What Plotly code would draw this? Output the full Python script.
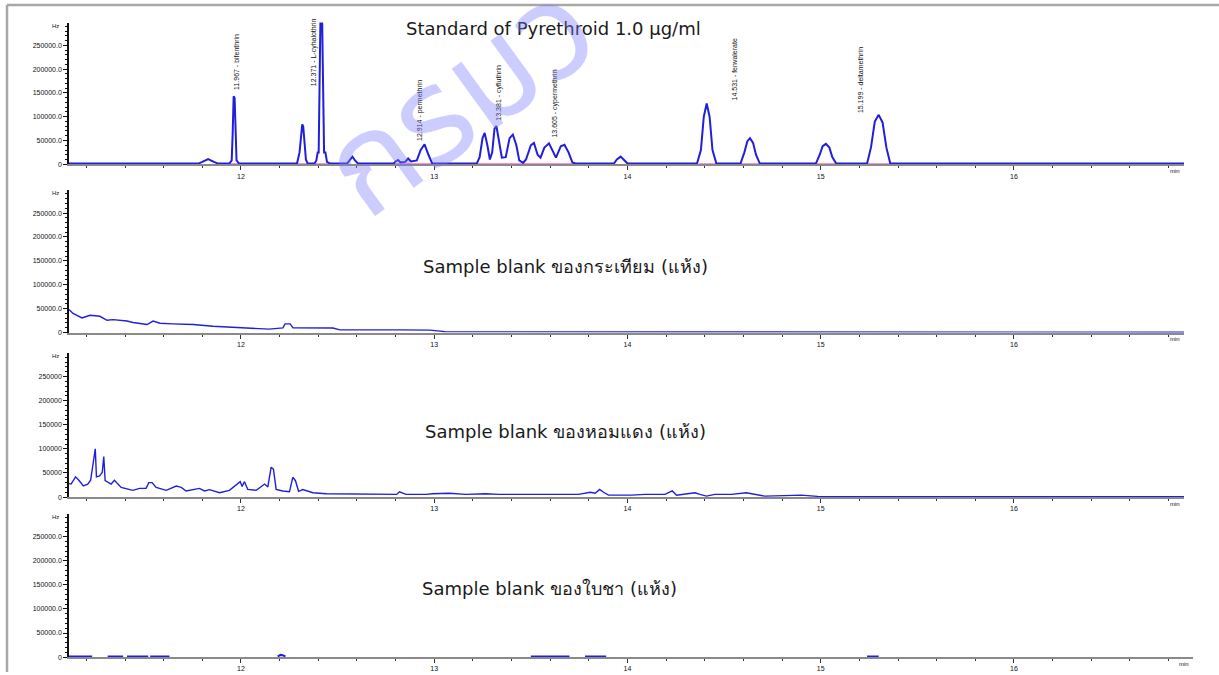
import plotly.graph_objects as go

# ---------------- data ----------------
# Panel 1: Standard of Pyrethroid 1.0 ug/ml  (time min, intensity Hz)
std_t = [11.11, 11.78, 11.80, 11.83, 11.86, 11.88, 11.94, 11.952, 11.957, 11.962, 11.967, 11.972, 11.977, 11.99,
         12.29, 12.303, 12.31, 12.317, 12.322, 12.328, 12.336, 12.345, 12.38, 12.39, 12.397, 12.402, 12.406, 12.412,
         12.419, 12.424, 12.43, 12.437, 12.445, 12.46, 12.55, 12.565, 12.577, 12.59, 12.605, 12.79, 12.80, 12.813,
         12.825, 12.85, 12.865, 12.88, 12.91, 12.93, 12.95, 12.97, 12.99, 13.22, 13.235, 13.25, 13.261, 13.275,
         13.288, 13.30, 13.312, 13.322, 13.335, 13.35, 13.37, 13.39, 13.407, 13.425, 13.44, 13.46, 13.475, 13.50,
         13.516, 13.535, 13.55, 13.57, 13.594, 13.615, 13.63, 13.655, 13.674, 13.695, 13.715, 13.73, 13.93, 13.945,
         13.965, 13.985, 14.0, 14.36, 14.38, 14.395, 14.41, 14.425, 14.44, 14.46, 14.585, 14.605, 14.62, 14.634,
         14.65, 14.665, 14.685, 14.975, 14.995, 15.01, 15.027, 15.045, 15.06, 15.08, 15.24, 15.26, 15.28, 15.30,
         15.32, 15.34, 15.36, 16.88]
std_y = [1500, 1500, 5000, 11000, 5000, 1500, 1500, 8000, 65000, 143000, 140000, 75000, 8000, 1500,
         1500, 25000, 60000, 84000, 80000, 55000, 10000, 1500, 1500, 8000, 25000, 25000, 150000, 330000,
         330000, 172000, 25000, 25000, 5000, 1500, 1500, 10000, 16000, 8000, 1500, 1500, 6000, 9000,
         4000, 5000, 12000, 6000, 8000, 30000, 42000, 20000, 1500, 1500, 15000, 55000, 66000, 40000,
         10000, 25000, 75000, 80000, 45000, 14000, 15000, 55000, 62500, 40000, 8000, 3000, 10000, 40000,
         45000, 20000, 14000, 35000, 44000, 25000, 14000, 38000, 41000, 25000, 4000, 1500, 1500, 10000,
         16000, 8000, 1500, 1500, 30000, 100000, 128000, 100000, 30000, 1500, 1500, 25000, 48000, 55000,
         45000, 20000, 1500, 1500, 20000, 38000, 43000, 35000, 15000, 1500, 1500, 35000, 90000, 104000,
         88000, 35000, 1500, 1500]

# integration baselines (start, end) in minutes
baseline_segments = [(11.93, 11.995), (12.28, 12.50), (12.79, 12.99), (13.22, 13.73),
                     (14.37, 14.76), (14.98, 15.47)]

# peak labels
peak_label_t = [11.974, 12.378, 12.926, 13.335, 13.625, 14.554, 15.21]
peak_label_y = [152000, 160000, 45800, 87500, 52000, 129000, 104000]
peak_label_text = ["11.967 - bifenthrin", "12.371 - L-cyhalothrin", "12.914 - permethrin",
                   "13.381 - cyfluthrin", "13.605 - cypermethrin", "14.531 - fenvalerate",
                   "15.199 - deltamethrin"]

# Panel 2: garlic blank
garlic_t = [11.110, 11.131, 11.177, 11.219, 11.270, 11.307, 11.338, 11.410, 11.441, 11.514, 11.545, 11.581,
            11.648, 11.752, 11.855, 11.959, 12.098, 12.145, 12.217, 12.228, 12.254, 12.269, 12.476, 12.512,
            12.823, 12.978, 13.03, 13.056, 14.375, 16.88]
garlic_y = [48000, 40000, 30600, 36000, 34000, 25600, 27000, 24000, 21000, 16700, 24000, 19400,
            18000, 16700, 13200, 11100, 8300, 7000, 9700, 18000, 18000, 9700, 9500, 5500,
            5500, 5000, 3000, 1500, 1000, 700]

# Panel 3: shallot blank
shallot_t = [11.109, 11.121, 11.144, 11.161, 11.184, 11.207, 11.222, 11.23, 11.241, 11.246, 11.252, 11.268,
             11.282, 11.29, 11.297, 11.311, 11.328, 11.345, 11.362, 11.380, 11.440, 11.475, 11.509, 11.523,
             11.540, 11.561, 11.613, 11.647, 11.665, 11.691, 11.716, 11.785, 11.811, 11.837, 11.889, 11.94,
             11.983, 11.996, 12.006, 12.018, 12.035, 12.079, 12.122, 12.139, 12.156, 12.168, 12.182, 12.216,
             12.251, 12.268, 12.282, 12.298, 12.32, 12.346, 12.372, 12.441, 12.806, 12.82, 12.854, 12.957,
             12.991, 13.077, 13.163, 13.266, 13.335, 13.747, 13.808, 13.833, 13.856, 13.876, 13.902, 14.022,
             14.091, 14.194, 14.232, 14.254, 14.349, 14.375, 14.409, 14.452, 14.538, 14.615, 14.658, 14.71,
             14.813, 14.898, 14.985, 15.397, 16.88]
shallot_y = [28000, 27000, 42000, 35000, 23000, 27000, 35000, 55000, 90000, 100000, 42000, 44000,
             51000, 84000, 34000, 30000, 27000, 35000, 27000, 20000, 14000, 18000, 18000, 30000,
             30000, 20000, 14000, 20000, 23000, 20000, 12700, 18000, 12700, 15500, 9000, 14000,
             27000, 32000, 22000, 32000, 16000, 14000, 27000, 21000, 62000, 58000, 16000, 12700,
             11000, 41000, 34000, 12000, 15500, 12000, 9000, 7000, 5600, 11000, 5600, 5600,
             7000, 8000, 5600, 7000, 5600, 5600, 10000, 8000, 16000, 10000, 4000, 4000,
             5600, 5600, 12700, 4000, 9000, 5600, 2000, 5600, 5600, 9000, 5600, 2000,
             3000, 4000, 1500, 800, 800]

# Panel 4: tea leaf blank (segments separated by None)
tea_t = [11.11, 11.23, None, 11.31, 11.39, None, 11.41, 11.52, None, 11.53, 11.63, None,
         12.19, 12.205, 12.215, 12.23, None, 13.50, 13.70, None, 13.78, 13.89, None, 15.24, 15.30]
tea_y = [1200, 1200, None, 1200, 1200, None, 1200, 1200, None, 1200, 1200, None,
         1200, 4500, 4000, 1200, None, 1200, 1200, None, 1200, 1200, None, 1200, 1200]

x_tick_vals = [12, 13, 14, 15, 16]
x_tick_text = ["12", "13", "14", "15", "16"]
y_tick_vals = [0, 50000, 100000, 150000, 200000, 250000]
y_tick_text_dec = ["0", "50000.0", "100000.0", "150000.0", "200000.0", "250000.0"]
y_tick_text_int = ["0", "50000", "100000", "150000", "200000", "250000"]

panel_titles = ["Standard of Pyrethroid 1.0 μg/ml",
                "Sample blank ของกระเทียม (แห้ง)",
                "Sample blank ของหอมแดง (แห้ง)",
                "Sample blank ของใบชา (แห้ง)"]
watermark_text = "กรมว"

# ---------------- layout geometry ----------------
W, H = 1219, 675
XL, XR = 69, 1184
X_RANGE = [11.110, 16.880]
Y_MAX = 298000
panels_px = [(22.7, 165), (191, 334), (355, 499.3), (516, 660)]   # (top, bottom) in px
title_px = [(553, 29), (565, 268), (565, 433), (549, 591)]

LINE_BLUE = "#1f1fdc"
AX_GRAY = "#8a8a8a"
tick_font = dict(family="Liberation Sans, Arial", size=7, color="#111")

fig = go.Figure()

series = [(std_t, std_y, 2.0), (garlic_t, garlic_y, 1.4), (shallot_t, shallot_y, 1.4), (tea_t, tea_y, 2.0)]

# pink integration baselines in panel 1
pink_x, pink_y = [], []
for a, b in baseline_segments:
    pink_x += [a, b, None]
    pink_y += [900, 900, None]

for i, (tx, ty, lw) in enumerate(series):
    n = "" if i == 0 else str(i + 1)
    if i == 0:
        fig.add_trace(go.Scatter(x=pink_x, y=pink_y, mode="lines", xaxis="x", yaxis="y",
                                 line=dict(color="#ff55cc", width=1), showlegend=False, hoverinfo="skip"))
    fig.add_trace(go.Scatter(x=tx, y=ty, mode="lines", xaxis="x" + n, yaxis="y" + n,
                             line=dict(color=LINE_BLUE, width=lw), showlegend=False,
                             connectgaps=False))

layout = dict(width=W, height=H, margin=dict(l=0, r=0, t=0, b=0),
              paper_bgcolor="white", plot_bgcolor="white", showlegend=False)

annotations = []
for i, (top, bot) in enumerate(panels_px):
    n = "" if i == 0 else str(i + 1)
    dom_y = [1 - bot / H, 1 - top / H]
    xr = XR if i < 3 else 1193
    layout["xaxis" + n] = dict(
        domain=[XL / W, xr / W], range=X_RANGE if i < 3 else [X_RANGE[0], X_RANGE[0] + (X_RANGE[1] - X_RANGE[0]) * (1193 - XL) / (XR - XL)],
        anchor="y" + n, showgrid=False, zeroline=False,
        showline=True, linecolor=AX_GRAY, linewidth=2,
        tickmode="array", tickvals=x_tick_vals, ticktext=x_tick_text,
        ticks="outside", ticklen=4, tickwidth=1, tickcolor="#333",
        minor=dict(dtick=0.2, ticks="outside", ticklen=2, tickcolor="#333", tickwidth=1, tick0=12),
        tickfont=tick_font, fixedrange=True)
    layout["yaxis" + n] = dict(
        domain=dom_y, range=[0, Y_MAX], anchor="x" + n, showgrid=False, zeroline=False,
        showline=True, linecolor="#111", linewidth=1.5,
        tickmode="array", tickvals=y_tick_vals,
        ticktext=y_tick_text_int if i == 2 else y_tick_text_dec,
        ticks="outside", ticklen=4, tickwidth=1, tickcolor="#111",
        minor=dict(dtick=10000, ticks="outside", ticklen=2, tickcolor="#111", tickwidth=1),
        tickfont=tick_font, fixedrange=True)
    # Hz label
    annotations.append(dict(xref="paper", yref="paper", x=(XL - 8) / W, y=1 - top / H - 3 / H,
                            text="Hz", showarrow=False, xanchor="right", yanchor="middle",
                            font=dict(family="Liberation Sans, Arial", size=6, color="#111")))
    # min label
    annotations.append(dict(xref="paper", yref="paper", x=(xr - 2) / W, y=1 - (bot + 7) / H,
                            text="min", showarrow=False, xanchor="right", yanchor="middle",
                            font=dict(family="Liberation Sans, Arial", size=6, color="#111")))
    # panel title
    tx_, ty_ = title_px[i]
    annotations.append(dict(xref="paper", yref="paper", x=tx_ / W, y=1 - ty_ / H,
                            text=panel_titles[i], showarrow=False, xanchor="center", yanchor="middle",
                            font=dict(family="DejaVu Sans, Tahoma, sans-serif", size=18, color="#1a1a1a")))

# peak labels
for t, yv, txt in zip(peak_label_t, peak_label_y, peak_label_text):
    annotations.append(dict(xref="x", yref="y", x=t, y=yv, text=txt, textangle=-90,
                            showarrow=False, xanchor="center", yanchor="bottom",
                            font=dict(family="Liberation Sans Narrow, Liberation Sans, Arial", size=7, color="#111")))

# watermark
annotations.append(dict(xref="paper", yref="paper", x=462 / W, y=1 - 102 / H,
                        text=watermark_text, showarrow=False, textangle=-36,
                        xanchor="center", yanchor="middle",
                        font=dict(family="Noto Sans Thai, Noto Sans, sans-serif", size=135,
                                  color="rgba(120,120,255,0.38)")))

layout["annotations"] = annotations

# outer frame
layout["shapes"] = [
    dict(type="line", xref="paper", yref="paper", x0=7 / W, x1=1.0, y0=1 - 5 / H, y1=1 - 5 / H,
         line=dict(color="#a8a8a8", width=2.5)),
    dict(type="line", xref="paper", yref="paper", x0=7 / W, x1=7 / W, y0=0, y1=1 - 5 / H,
         line=dict(color="#a8a8a8", width=2.5)),
]

fig.update_layout(**layout)
fig.write_html("out.html")
